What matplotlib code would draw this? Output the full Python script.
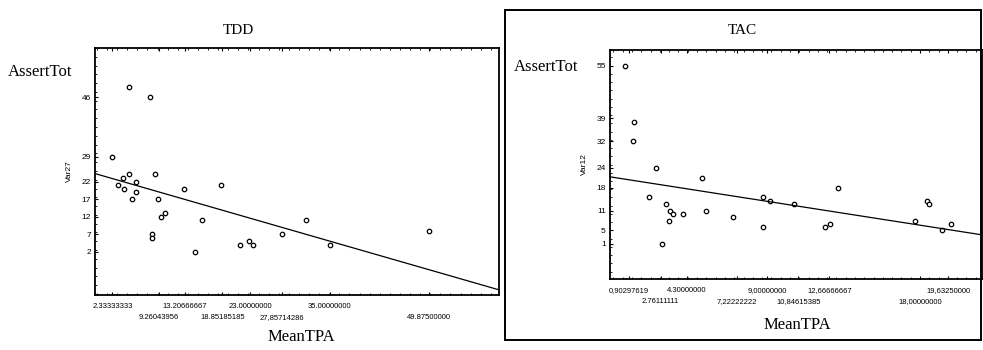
'''
Scatter of AssertTot vs MeanTPA for the TDD and TAC groups, with fitted lines.
'''

import matplotlib
matplotlib.use('Agg')
import matplotlib.pyplot as plt
from matplotlib.patches import Rectangle
from matplotlib.ticker import MultipleLocator

# TDD group (Var27 vs MeanTPA)
TDD_X = [4.8, 7.9, 2.33, 4.8, 8.65, 3.9, 3.1, 5.8, 4.1, 5.8, 5.3, 9.2, 13.05,
         18.6, 9.65, 10.25, 8.3, 8.3, 15.8, 14.8, 21.5, 22.8, 23.5, 27.86,
         31.4, 35.0, 49.875]
TDD_Y = [49, 46, 29, 24, 24, 23, 21, 22, 20, 19, 17, 17, 20,
         21, 12, 13, 7, 6, 11, 2, 4, 5, 4, 7,
         11, 4, 8]
TDD_FIT = (24.1, -0.545)  # intercept, slope
TDD_XTICKS = [2.33333333, 9.26043956, 13.20666667, 18.85185185, 23.0,
              27.85714286, 35.0, 49.875]
TDD_XLABELS = ['2.33333333', '9.26043956', '13.20666667', '18.85185185',
               '23.00000000', '27,85714286', '35.00000000', '49.87500000']
TDD_YTICKS = [2, 7, 12, 17, 22, 29, 46]

# TAC group (Var12 vs MeanTPA)
TAC_X = [0.65, 1.18, 1.12, 2.52, 2.09, 3.07, 3.34, 3.5, 3.26, 2.83, 4.1,
         5.18, 5.45, 6.99, 8.79, 8.77, 9.2, 10.62, 12.4, 12.73, 13.16,
         17.7, 18.37, 18.52, 19.3, 19.83]
TAC_Y = [55, 38, 32, 24, 15, 13, 11, 10, 8, 1, 10,
         21, 11, 9, 15, 6, 14, 13, 6, 7, 18,
         8, 14, 13, 5, 7]
TAC_FIT = (21.1, -0.806)
TAC_XTICKS = [0.90297619, 2.76111111, 4.3, 7.22222222, 9.0, 10.84615385,
              12.66666667, 18.0, 19.6325]
TAC_XLABELS = ['0,90297619', '2.76111111', '4.30000000', '7,22222222',
               '9,00000000', '10,84615385', '12,66666667', '18,00000000',
               '19,63250000']
TAC_YTICKS = [1, 5, 11, 18, 24, 32, 39, 55]

SERIF = 'Liberation Serif'
SANS = 'Liberation Sans'


def draw_panel(ax, xs, ys, fit, xticks, xlabels, yticks, ylabel, xlim, ylim,
               ylabelpad):
    '''
    Draws one scatter panel with its regression line.
    '''
    ax.plot(xs, ys, linestyle='none', marker='o', markersize=3.2,
            markerfacecolor='white', markeredgecolor='black',
            markeredgewidth=0.9)
    ax.axline((0, fit[0]), slope=fit[1], color='black', linewidth=0.9)

    ax.set_xlim(*xlim)
    ax.set_ylim(*ylim)

    ax.set_xticks(xticks)
    ax.set_xticklabels(xlabels, fontsize=5.5, family=SANS)
    ax.set_yticks(yticks)
    ax.set_yticklabels([str(v) for v in yticks], fontsize=6, family=SANS)
    ax.xaxis.set_minor_locator(MultipleLocator((xlim[1] - xlim[0]) / 40))
    ax.yaxis.set_minor_locator(MultipleLocator(2.5))

    ax.tick_params(which='major', direction='in', length=2.5, width=0.8,
                   pad=3, top=True)
    ax.tick_params(which='minor', direction='in', length=1.5, width=0.6,
                   top=True)

    # labels alternate between two rows like the original printout
    for i, tick in enumerate(ax.xaxis.get_major_ticks()):
        tick.set_pad(14 if i % 2 == 1 else 6)

    ax.set_ylabel(ylabel, fontsize=6, family=SANS, labelpad=ylabelpad)
    for s in ax.spines.values():
        s.set_linewidth(1.3)


def main():
    fig = plt.figure(figsize=(9.83, 3.5), dpi=100)

    ax1 = fig.add_axes([0.0966, 0.157, 0.411, 0.706])
    draw_panel(ax1, TDD_X, TDD_Y, TDD_FIT, TDD_XTICKS, TDD_XLABELS,
               TDD_YTICKS, 'Var27', (-0.3, 60.4), (-10.3, 60), 6)

    ax2 = fig.add_axes([0.6206, 0.203, 0.378, 0.654])
    draw_panel(ax2, TAC_X, TAC_Y, TAC_FIT, TAC_XTICKS, TAC_XLABELS,
               TAC_YTICKS, 'Var12', (-0.2, 21.6), (-9.7, 59.7), 6)

    # frame around the right-hand panel
    fig.patches.append(Rectangle((0.514, 0.0286), 0.484, 0.943,
                                 transform=fig.transFigure, fill=False,
                                 edgecolor='black', linewidth=1.4))

    fig.text(0.242, 0.914, 'TDD', ha='center', va='center', fontsize=11,
             family=SERIF)
    fig.text(0.008, 0.794, 'AssertTot', ha='left', va='center', fontsize=12,
             family=SERIF)
    fig.text(0.307, 0.037, 'MeanTPA', ha='center', va='center', fontsize=12,
             family=SERIF)

    fig.text(0.755, 0.914, 'TAC', ha='center', va='center', fontsize=11,
             family=SERIF)
    fig.text(0.523, 0.809, 'AssertTot', ha='left', va='center', fontsize=12,
             family=SERIF)
    fig.text(0.811, 0.071, 'MeanTPA', ha='center', va='center', fontsize=12,
             family=SERIF)

    fig.savefig('out.png', dpi=100)


if __name__ == '__main__':
    main()
